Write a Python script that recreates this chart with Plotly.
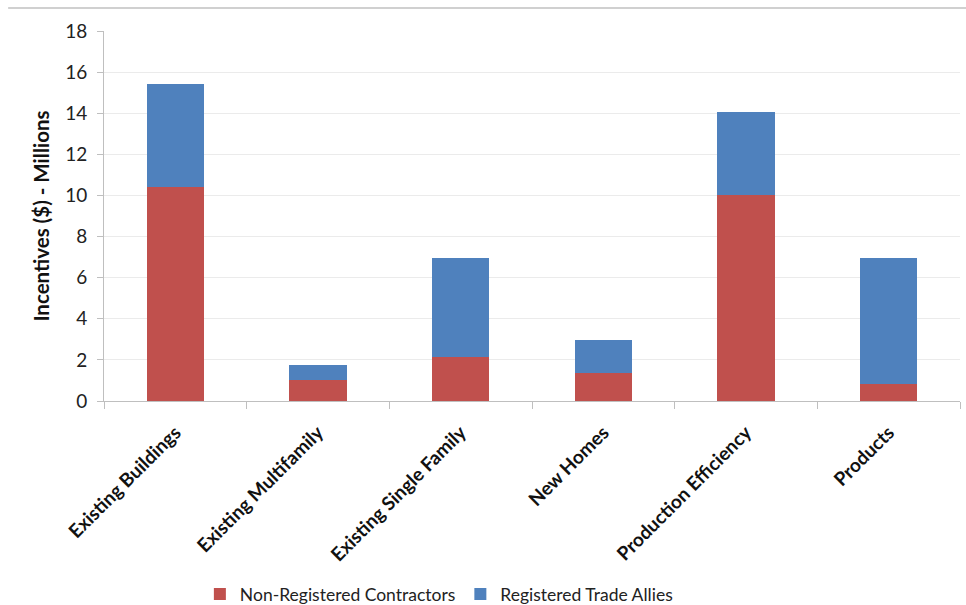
import plotly.graph_objects as go

categories = ["Existing Buildings", "Existing Multifamily", "Existing Single Family",
              "New Homes", "Production Efficiency", "Products"]
non_registered = [10.4, 1.0, 2.13, 1.38, 10.02, 0.81]
registered = [5.03, 0.75, 4.83, 1.59, 4.04, 6.15]
y_ticks = [0, 2, 4, 6, 8, 10, 12, 14, 16, 18]

FONT = "Lato"
RED = "#C0504D"
BLUE = "#4F81BD"

fig = go.Figure()
fig.add_trace(go.Bar(
    x=categories, y=non_registered, name="Non-Registered Contractors",
    marker=dict(color=RED, line=dict(width=0)),
))
fig.add_trace(go.Bar(
    x=categories, y=registered, name="Registered Trade Allies",
    marker=dict(color=BLUE, line=dict(width=0)),
))

fig.update_layout(
    barmode="stack",
    bargap=0.6,
    width=966, height=605,
    margin=dict(l=104, r=6, t=31, b=204, autoexpand=False),
    paper_bgcolor="white", plot_bgcolor="white",
    font=dict(family=FONT, color="#222222"),
    showlegend=True,
    legend=dict(
        orientation="h", x=0.112, y=-0.522, xanchor="left", yanchor="middle",
        font=dict(family=FONT, size=17.5, color="#222222"),
        traceorder="normal", itemwidth=30,
    ),
    xaxis=dict(
        type="category", automargin=False,
        tickangle=-45,
        tickfont=dict(family=FONT, size=19, color="#111111", weight="bold"),
        ticklabelstandoff=12,
        showline=True, linecolor="#BFBFBF", linewidth=1,
        ticks="outside", tickson="boundaries", ticklen=7, tickcolor="#BFBFBF",
        showgrid=False,
    ),
    yaxis=dict(
        automargin=False,
        range=[0, 18], tickvals=y_ticks,
        tickfont=dict(family=FONT, size=19, color="#222222"),
        ticklabelstandoff=6,
        showline=True, linecolor="#BFBFBF", linewidth=1,
        ticks="outside", ticklen=6, tickcolor="#BFBFBF",
        showgrid=True, gridcolor="#EBEBEB", gridwidth=1,
        zeroline=False,
        title=dict(text="Incentives ($) - Millions", standoff=9,
                   font=dict(family=FONT, size=20.5, color="#111111", weight="bold")),
    ),
    shapes=[dict(type="line", xref="paper", yref="paper",
                 x0=-0.112, x1=1.01, y0=1.062, y1=1.062,
                 line=dict(color="#D0D0D0", width=2))],
)

fig.write_html("out.html")
